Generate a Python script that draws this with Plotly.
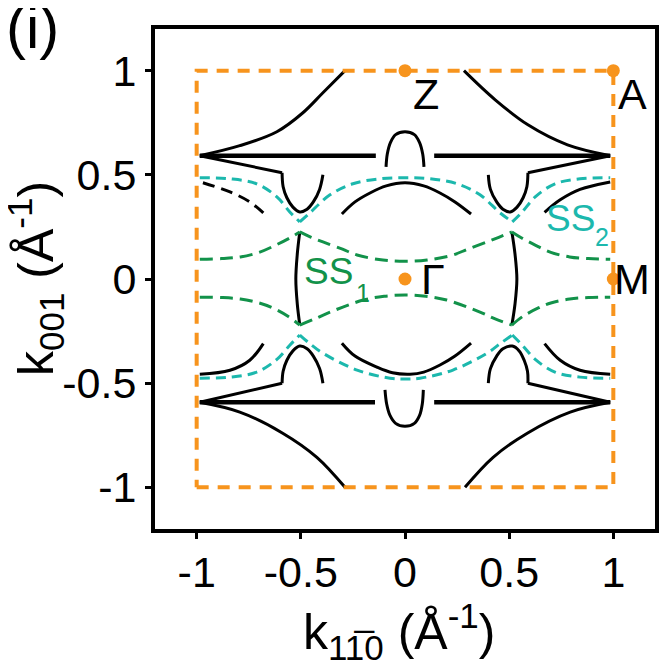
import plotly.graph_objects as go

FONT = "Liberation Sans, Arial, sans-serif"
ORANGE = "#F7941D"
GREEN = "#12924A"
CYAN = "#1CB8AD"
BLACK = "#000000"

# ---- axis ticks ----
tick_vals = [-1, -0.5, 0, 0.5, 1]
tick_text = ["-1", "-0.5", "0", "0.5", "1"]

# ---- Brillouin-zone boundary and high-symmetry points ----
bz_x = [-1, 1, 1, -1, -1]
bz_y = [-1, -1, 1, 1, -1]
hs_names = ["Z", "A", "Γ", "M"]
hs_x = [0, 1, 0, 1]
hs_y = [1, 1, 0, 0]

# ---- black Fermi-surface contours ----
arc_tl_x = [-0.288, -0.394, -0.49, -0.615, -0.793, -0.985]
arc_tl_y = [1.0, 0.894, 0.798, 0.707, 0.64, 0.592]
arc_tr_x = [0.283, 0.433, 0.59, 0.78, 0.985]
arc_tr_y = [1.0, 0.86, 0.74, 0.644, 0.592]
arc_bl_x = [-0.288, -0.423, -0.587, -0.793, -0.985]
arc_bl_y = [-1.0, -0.856, -0.74, -0.639, -0.592]
arc_br_x = [0.288, 0.423, 0.587, 0.793, 0.985]
arc_br_y = [-1.0, -0.856, -0.74, -0.639, -0.592]

bar_top_x = [-0.985, -0.14, None, 0.14, 0.985]
bar_top_y = [0.592, 0.592, None, 0.592, 0.592]
bar_bot_x = [-0.985, -0.144, None, 0.14, 0.985]
bar_bot_y = [-0.592, -0.592, None, -0.592, -0.592]

spur_ul_x = [-0.985, -0.59]
spur_ul_y = [0.592, 0.51]
spur_ur_x = [0.985, 0.59]
spur_ur_y = [0.592, 0.51]
spur_ll_x = [-0.985, -0.59]
spur_ll_y = [-0.592, -0.50]
spur_lr_x = [0.985, 0.59]
spur_lr_y = [-0.592, -0.50]

pocket_ul_x = [-0.59, -0.585, -0.567, -0.538, -0.505, -0.47, -0.44, -0.41, -0.394]
pocket_ul_y = [0.51, 0.443, 0.39, 0.345, 0.322, 0.335, 0.37, 0.43, 0.50]
pocket_ur_x = [0.40, 0.41, 0.44, 0.47, 0.505, 0.538, 0.567, 0.585, 0.59]
pocket_ur_y = [0.50, 0.43, 0.37, 0.335, 0.322, 0.345, 0.39, 0.443, 0.51]
pocket_ll_x = [-0.59, -0.585, -0.567, -0.538, -0.505, -0.47, -0.44, -0.41, -0.394]
pocket_ll_y = [-0.50, -0.443, -0.39, -0.345, -0.322, -0.335, -0.37, -0.43, -0.50]
pocket_lr_x = [0.40, 0.41, 0.44, 0.47, 0.515, 0.548, 0.572, 0.588, 0.59]
pocket_lr_y = [-0.50, -0.43, -0.37, -0.335, -0.322, -0.345, -0.39, -0.443, -0.50]

cap_top_x = [-0.091, -0.085, -0.07, -0.045, 0.0, 0.045, 0.07, 0.085, 0.091]
cap_top_y = [0.538, 0.60, 0.655, 0.693, 0.707, 0.693, 0.655, 0.60, 0.538]
cap_bot_x = [-0.096, -0.088, -0.072, -0.045, 0.0, 0.045, 0.07, 0.083, 0.088]
cap_bot_y = [-0.532, -0.60, -0.655, -0.693, -0.707, -0.693, -0.655, -0.60, -0.532]

inner_top_x = [-0.303, -0.24, -0.168, -0.09, 0.0, 0.09, 0.168, 0.24, 0.317]
inner_top_y = [0.312, 0.37, 0.413, 0.447, 0.462, 0.447, 0.413, 0.37, 0.312]
inner_bot_x = [-0.303, -0.24, -0.135, -0.06, 0.024, 0.09, 0.168, 0.24, 0.317]
inner_bot_y = [-0.308, -0.37, -0.423, -0.45, -0.457, -0.447, -0.413, -0.37, -0.308]

side_ul_x = [-0.97, -0.84, -0.745, -0.68]
side_ul_y = [0.462, 0.418, 0.37, 0.317]
side_ur_x = [0.985, 0.84, 0.745, 0.67]
side_ur_y = [0.466, 0.43, 0.38, 0.32]
side_ll_x = [-0.985, -0.84, -0.745, -0.68]
side_ll_y = [-0.457, -0.438, -0.39, -0.31]
side_lr_x = [0.985, 0.84, 0.745, 0.67]
side_lr_y = [-0.457, -0.438, -0.39, -0.31]

vert_l_x = [-0.505, -0.517, -0.524, -0.517, -0.505]
vert_l_y = [0.226, 0.12, 0.0, -0.12, -0.221]
vert_r_x = [0.513, 0.528, 0.537, 0.528, 0.513]
vert_r_y = [0.226, 0.12, 0.0, -0.12, -0.221]

# ---- SS1 surface state (green) ----
ss1_ul_x = [-0.985, -0.88, -0.79, -0.70, -0.62, -0.553, -0.505]
ss1_ul_y = [0.095, 0.098, 0.106, 0.128, 0.163, 0.197, 0.226]
ss1_um_x = [-0.505, -0.45, -0.394, -0.30, -0.23, -0.106, 0.0, 0.106, 0.23, 0.30, 0.394, 0.45, 0.513]
ss1_um_y = [0.226, 0.20, 0.178, 0.143, 0.115, 0.091, 0.085, 0.091, 0.115, 0.143, 0.178, 0.20, 0.226]
ss1_ur_x = [0.513, 0.56, 0.625, 0.70, 0.79, 0.88, 0.985]
ss1_ur_y = [0.226, 0.197, 0.163, 0.128, 0.106, 0.098, 0.095]
ss1_ll_x = [-0.985, -0.88, -0.79, -0.70, -0.635, -0.56, -0.505]
ss1_ll_y = [-0.087, -0.089, -0.096, -0.115, -0.139, -0.18, -0.221]
ss1_lm_x = [-0.505, -0.43, -0.36, -0.20, -0.10, 0.0, 0.10, 0.20, 0.36, 0.43, 0.513]
ss1_lm_y = [-0.221, -0.19, -0.159, -0.101, -0.083, -0.077, -0.083, -0.101, -0.159, -0.19, -0.221]
ss1_lr_x = [0.513, 0.565, 0.64, 0.70, 0.79, 0.88, 0.985]
ss1_lr_y = [-0.221, -0.18, -0.139, -0.115, -0.096, -0.089, -0.087]

# ---- SS2 surface state (cyan) ----
ss2_ul_x = [-0.985, -0.84, -0.712, -0.615, -0.553, -0.505]
ss2_ul_y = [0.486, 0.481, 0.457, 0.394, 0.322, 0.274]
ss2_um_x = [-0.505, -0.457, -0.36, -0.25, -0.12, 0.0, 0.12, 0.25, 0.36, 0.457, 0.515]
ss2_um_y = [0.274, 0.317, 0.404, 0.457, 0.481, 0.486, 0.481, 0.457, 0.404, 0.317, 0.274]
ss2_ur_x = [0.515, 0.563, 0.625, 0.72, 0.84, 0.985]
ss2_ur_y = [0.274, 0.322, 0.394, 0.457, 0.481, 0.486]
ss2_ll_x = [-0.985, -0.84, -0.712, -0.615, -0.553, -0.505]
ss2_ll_y = [-0.476, -0.471, -0.447, -0.386, -0.318, -0.269]
ss2_lm_x = [-0.505, -0.457, -0.394, -0.23, -0.072, 0.0, 0.072, 0.23, 0.394, 0.457, 0.515]
ss2_lm_y = [-0.269, -0.31, -0.356, -0.437, -0.476, -0.48, -0.476, -0.437, -0.356, -0.31, -0.269]
ss2_lr_x = [0.515, 0.563, 0.625, 0.72, 0.84, 0.985]
ss2_lr_y = [-0.269, -0.318, -0.386, -0.447, -0.471, -0.476]

fig = go.Figure()


def add(x, y, color, width, dash="solid", shape="spline"):
    fig.add_trace(go.Scatter(
        x=x, y=y, mode="lines", showlegend=False, hoverinfo="skip",
        line=dict(color=color, width=width, dash=dash, shape=shape, smoothing=1.0),
    ))


# black solid curves
for cx, cy in [(arc_tl_x, arc_tl_y), (arc_tr_x, arc_tr_y), (arc_bl_x, arc_bl_y), (arc_br_x, arc_br_y),
               (pocket_ul_x, pocket_ul_y), (pocket_ur_x, pocket_ur_y),
               (pocket_ll_x, pocket_ll_y), (pocket_lr_x, pocket_lr_y),
               (cap_top_x, cap_top_y), (cap_bot_x, cap_bot_y),
               (inner_top_x, inner_top_y), (inner_bot_x, inner_bot_y),
               (side_ur_x, side_ur_y), (side_ll_x, side_ll_y), (side_lr_x, side_lr_y),
               (vert_l_x, vert_l_y), (vert_r_x, vert_r_y)]:
    add(cx, cy, BLACK, 3)
for cx, cy in [(spur_ul_x, spur_ul_y), (spur_ur_x, spur_ur_y), (spur_ll_x, spur_ll_y), (spur_lr_x, spur_lr_y)]:
    add(cx, cy, BLACK, 3, shape="linear")
add(bar_top_x, bar_top_y, BLACK, 4.5, shape="linear")
add(bar_bot_x, bar_bot_y, BLACK, 4.5, shape="linear")
add(side_ul_x, side_ul_y, BLACK, 3, dash="12px,7px")

# surface states
for cx, cy in [(ss2_ul_x, ss2_ul_y), (ss2_um_x, ss2_um_y), (ss2_ur_x, ss2_ur_y),
               (ss2_ll_x, ss2_ll_y), (ss2_lm_x, ss2_lm_y), (ss2_lr_x, ss2_lr_y)]:
    add(cx, cy, CYAN, 3, dash="10px,6px")
for cx, cy in [(ss1_ul_x, ss1_ul_y), (ss1_um_x, ss1_um_y), (ss1_ur_x, ss1_ur_y),
               (ss1_ll_x, ss1_ll_y), (ss1_lm_x, ss1_lm_y), (ss1_lr_x, ss1_lr_y)]:
    add(cx, cy, GREEN, 3, dash="13px,7px")

# BZ boundary
add(bz_x, bz_y, ORANGE, 4, dash="12px,9px", shape="linear")
fig.add_trace(go.Scatter(x=hs_x, y=hs_y, mode="markers", showlegend=False, hoverinfo="skip",
                         marker=dict(color=ORANGE, size=13, line=dict(width=0))))

ann = []
label_pos = {"Z": (0.10, 0.89), "A": (1.09, 0.89), "Γ": (0.135, 0.0), "M": (1.09, 0.0)}
for name in hs_names:
    px, py = label_pos[name]
    ann.append(dict(x=px, y=py, xref="x", yref="y", text=name, showarrow=False,
                    font=dict(family=FONT, size=43, color=BLACK)))
ann += [
    dict(x=-0.365, y=0.035, xref="x", yref="y", text="SS", showarrow=False,
         font=dict(family=FONT, size=37, color=GREEN)),
    dict(x=-0.2, y=-0.067, xref="x", yref="y", text="1", showarrow=False,
         font=dict(family=FONT, size=25, color=GREEN)),
    dict(x=0.795, y=0.29, xref="x", yref="y", text="SS", showarrow=False,
         font=dict(family=FONT, size=37, color=CYAN)),
    dict(x=0.947, y=0.2, xref="x", yref="y", text="2", showarrow=False,
         font=dict(family=FONT, size=25, color=CYAN)),
    dict(x=-0.302, y=1.074, xref="paper", yref="paper", text="(i)", showarrow=False,
         xanchor="left", yanchor="top", font=dict(family=FONT, size=60, color=BLACK)),
    # axis titles
    dict(x=0.488, y=-0.205, xref="paper", yref="paper", showarrow=False,
         xanchor="center", yanchor="middle",
         text="k<sub>11\u03050</sub> (Å<sup>-1</sup>)",
         font=dict(family=FONT, size=50, color=BLACK)),
    dict(x=-0.24, y=0.5, xref="paper", yref="paper", showarrow=False, textangle=-90,
         xanchor="center", yanchor="middle",
         text="k<sub>001</sub> (Å<sup>-1</sup>)",
         font=dict(family=FONT, size=50, color=BLACK)),
]

axis_common = dict(
    range=[-1.2, 1.2], tickvals=tick_vals, ticktext=tick_text,
    showline=True, linecolor=BLACK, linewidth=4, mirror=True,
    ticks="outside", ticklen=6, tickwidth=3, tickcolor=BLACK,
    showgrid=False, zeroline=False, automargin=False,
    tickfont=dict(family=FONT, size=43, color=BLACK),
)

fig.update_layout(
    width=668, height=663,
    margin=dict(l=147, r=21, t=21, b=142),
    paper_bgcolor="white", plot_bgcolor="white",
    xaxis=dict(**axis_common, ticklabelstandoff=-4),
    yaxis=dict(**axis_common),
    annotations=ann,
)

fig.write_html("out.html")
